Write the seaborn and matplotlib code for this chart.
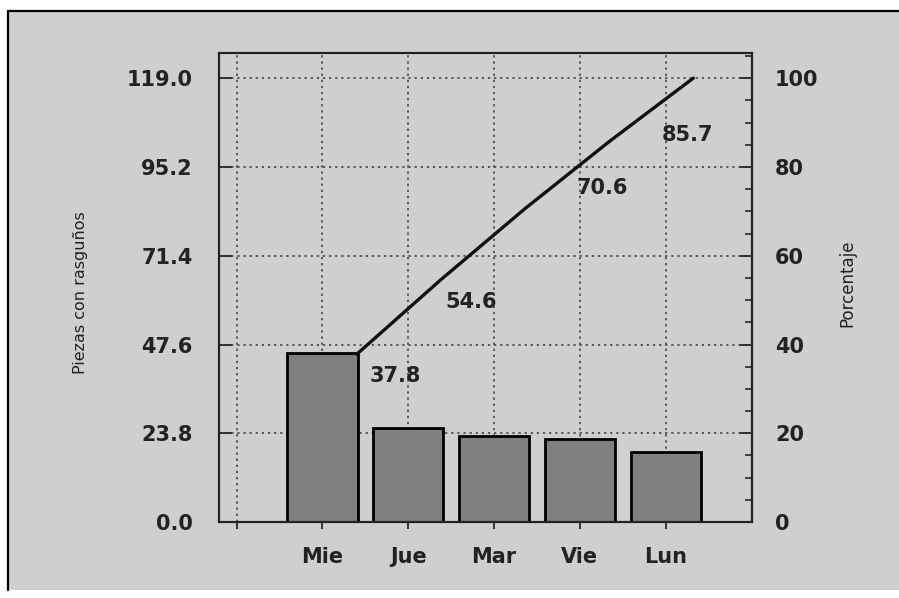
import numpy as np
import pandas as pd
import matplotlib
matplotlib.use("Agg")
import matplotlib.pyplot as plt
import seaborn as sns
from matplotlib.ticker import MultipleLocator
from matplotlib.patches import Rectangle
from matplotlib.lines import Line2D

# datos
dias = ['Mie', 'Jue', 'Mar', 'Vie', 'Lun']
piezas = [45.2, 25.3, 23.2, 22.4, 18.8]
acumulado = [37.8, 54.6, 70.6, 85.7, 100.0]
etiquetas_acum = ['37.8', '54.6', '70.6', '85.7']
yticks_izq = [0.0, 23.8, 47.6, 71.4, 95.2, 119.0]
yticks_der = [0, 20, 40, 60, 80, 100]

bg = '#cfcfcf'
ink = '#222222'

sns.set_style('ticks')
plt.rcParams['font.family'] = ['DejaVu Sans']

fig = plt.figure(figsize=(8.99, 5.98), dpi=100, facecolor='white')

# fondo gris del escaneo con borde negro arriba/izquierda
fig.add_artist(Rectangle((8 / 899, 8 / 598), 1, 0.9666, transform=fig.transFigure,
                         facecolor=bg, edgecolor='none', zorder=-10))
fig.add_artist(Line2D([7.5 / 899, 7.5 / 899], [8 / 598, 0.981], transform=fig.transFigure,
                      color='black', lw=1.6))
fig.add_artist(Line2D([7.5 / 899, 1], [0.981, 0.981], transform=fig.transFigure,
                      color='black', lw=1.6))

ax = fig.add_axes([0.244, 0.127, 0.592, 0.784])
ax.set_facecolor(bg)

df = pd.DataFrame({'dia': dias, 'piezas': piezas})
sns.barplot(data=df, x='dia', y='piezas', order=dias, color='#7f7f7f', saturation=1,
            width=0.82, edgecolor='black', linewidth=2, ax=ax, zorder=2)

ax.set_xlim(-1.2, 5.0)
ax.set_ylim(0, 125.7)
ax.set_xticks(range(-1, len(dias)), labels=[''] + dias, fontweight='bold', fontsize=15, color=ink)
ax.set_yticks(yticks_izq, labels=[f'{v:.1f}' for v in yticks_izq], fontweight='bold',
              fontsize=15, color=ink)
ax.tick_params(axis='y', direction='in', length=9, width=1.3, pad=19)
ax.tick_params(axis='x', direction='out', length=5, width=1.3, pad=13)
ax.set_xlabel('')
ax.set_ylabel('Piezas con rasguños', fontsize=11.5, color=ink)
ax.yaxis.set_label_coords(-0.246, 0.49)

ax.grid(True, color='#3a3a3a', linestyle=(0, (1.5, 2.5)), linewidth=1.1)
ax.set_axisbelow(True)
for s in ax.spines.values():
    s.set_visible(True)
    s.set_linewidth(1.5)
    s.set_color(ink)

# eje derecho: porcentaje acumulado
ax2 = ax.twinx()
ax2.set_ylim(0, 125.7 / 1.19)
line_x = np.arange(len(dias)) * 0.98 + 0.4
sns.lineplot(x=line_x, y=acumulado, ax=ax2, color='#111111', linewidth=2.4,
             sort=False, estimator=None)

offsets = [(39, -22), (30, -22), (77, 21), (78, 7)]
for xv, yv, txt, off in zip(line_x, acumulado, etiquetas_acum, offsets):
    ax2.annotate(txt, (xv, yv), xytext=off, textcoords='offset pixels', ha='center',
                 va='center', fontsize=15, fontweight='bold', color=ink)

ax2.set_yticks(yticks_der, labels=[str(v) for v in yticks_der], fontweight='bold',
               fontsize=15, color=ink)
ax2.yaxis.set_minor_locator(MultipleLocator(5))
ax2.tick_params(axis='y', which='major', direction='in', length=9, width=1.3, pad=17)
ax2.tick_params(axis='y', which='minor', direction='in', length=5, width=1.2)
ax2.set_ylabel('Porcentaje', fontsize=12, color=ink, rotation=90)
ax2.yaxis.set_label_coords(1.163, 0.51)
for s in ax2.spines.values():
    s.set_linewidth(1.5)
    s.set_color(ink)

fig.savefig('out.png', dpi=100, facecolor=fig.get_facecolor())
